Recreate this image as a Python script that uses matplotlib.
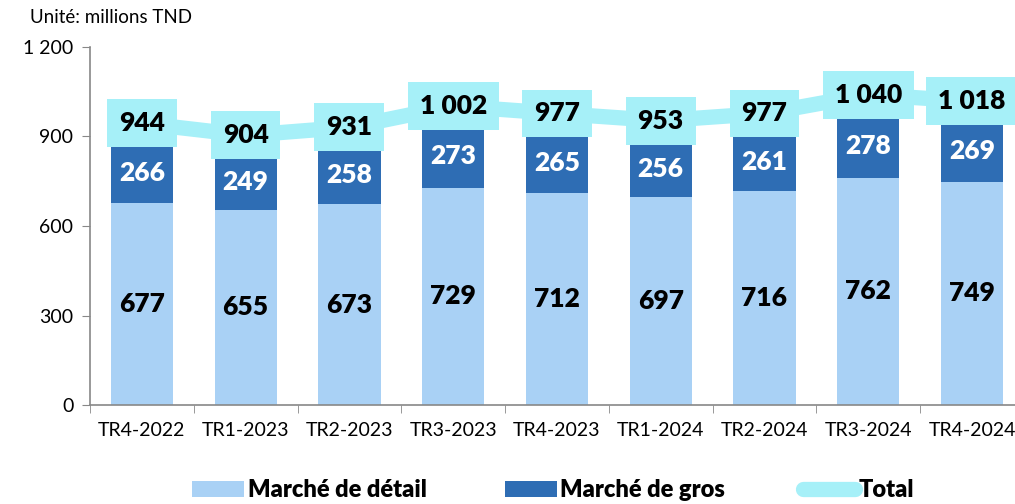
import matplotlib.pyplot as plt
import numpy as np

# data
categories = ["TR4-2022", "TR1-2023", "TR2-2023", "TR3-2023", "TR4-2023",
              "TR1-2024", "TR2-2024", "TR3-2024", "TR4-2024"]
detail = [677, 655, 673, 729, 712, 697, 716, 762, 749]
gros = [266, 249, 258, 273, 265, 256, 261, 278, 269]
total = [944, 904, 931, 1002, 977, 953, 977, 1040, 1018]

C_DETAIL = "#A9D1F5"
C_GROS = "#2E6DB4"
C_TOTAL = "#A6F0F8"
BG = "#FFFFFF"

plt.rcParams["font.family"] = ["Lato", "DejaVu Sans"]


def fmt(v):
    return f"{v:,}".replace(",", " ")


fig = plt.figure(figsize=(10.15, 5.04), dpi=100, facecolor=BG)
ax = fig.add_axes([0.0887, 0.196, 0.92, 0.711], facecolor=BG)

x = np.arange(len(categories))
b1 = ax.bar(x, detail, width=0.6, color=C_DETAIL, label="Marché de détail",
            zorder=2)
b2 = ax.bar(x, gros, width=0.6, bottom=detail, color=C_GROS,
            label="Marché de gros", zorder=2)
ln, = ax.plot(x, total, color=C_TOTAL, lw=11, solid_capstyle="round",
              label="Total", zorder=3)

for i in range(len(categories)):
    ax.text(x[i], detail[i] / 2, fmt(detail[i]), ha="center", va="center",
            fontsize=19, fontweight="heavy", color="black", zorder=4)
    ax.annotate(fmt(gros[i]), (x[i], detail[i] + gros[i] / 2),
                xytext=(0, -7), textcoords="offset points",
                ha="center", va="center", fontsize=19, fontweight="heavy",
                color="white", zorder=4)
    ax.text(x[i], total[i], fmt(total[i]), ha="center", va="center",
            fontsize=19, fontweight="heavy", color="black", zorder=5,
            bbox=dict(boxstyle="square,pad=0.45", fc=C_TOTAL, ec="none"))

ax.set_xlim(-0.5, len(categories) - 0.5)
ax.set_ylim(0, 1200)
ax.set_yticks([0, 300, 600, 900, 1200])
ax.set_yticklabels([fmt(v) for v in [0, 300, 600, 900, 1200]], fontsize=14)
ax.set_xticks(x)
ax.set_xticklabels(categories, fontsize=14)
ax.set_xticks(np.arange(len(categories) + 1) - 0.5, minor=True)
ax.tick_params(axis="x", which="major", length=0, pad=12)
ax.tick_params(axis="x", which="minor", length=6, color="#888888")
ax.tick_params(axis="y", length=6, color="#888888", pad=6)

for s in ["top", "right"]:
    ax.spines[s].set_visible(False)
for s in ["left", "bottom"]:
    ax.spines[s].set_color("#888888")
    ax.spines[s].set_linewidth(1.2)

fig.text(0.03, 0.965, "Unité: millions TND", fontsize=13.5, ha="left",
         va="center")

fig.legend([b1, b2, ln], ["Marché de détail", "Marché de gros", "Total"],
           loc="center", bbox_to_anchor=(0.545, 0.027), ncol=3,
           frameon=False, handlelength=2.2, handletextpad=0.15,
           columnspacing=3.3, prop={"size": 17, "weight": "heavy"})

fig.savefig("out.png", dpi=100, facecolor=BG)
